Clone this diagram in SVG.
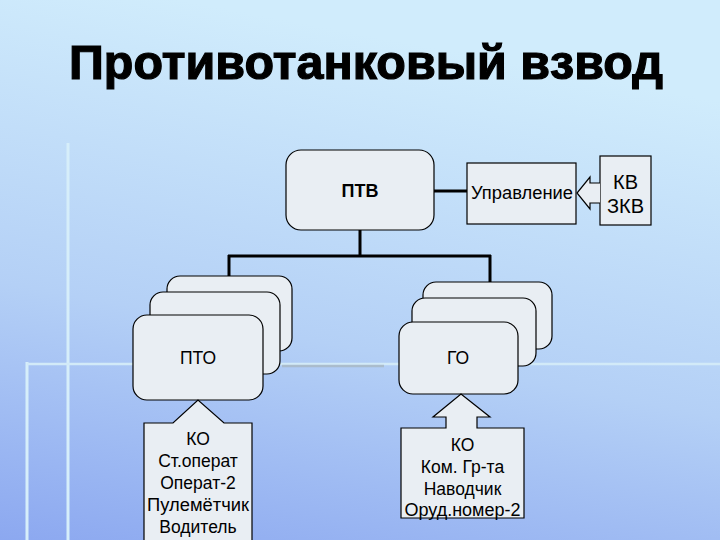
<svg xmlns="http://www.w3.org/2000/svg" width="720" height="540" viewBox="0 0 720 540">
<defs>
<linearGradient id="bg" x1="0.25" y1="0" x2="0" y2="1">
<stop offset="0" stop-color="#d0ecfc"/>
<stop offset="0.55" stop-color="#b4d0f6"/>
<stop offset="1" stop-color="#8ca8f0"/>
</linearGradient>
<linearGradient id="band" x1="0" y1="0" x2="1" y2="0">
<stop offset="0" stop-color="#dff2fb" stop-opacity="0.9"/>
<stop offset="0.35" stop-color="#c2d2dc" stop-opacity="0.9"/>
<stop offset="1" stop-color="#c2d2dc" stop-opacity="0.3"/>
</linearGradient>
<style>
.card{fill:#e9eef3;stroke:#000;stroke-width:1.2}
.conn{stroke:#000;stroke-width:3;fill:none}
.deco{stroke:#d6eefa;stroke-width:3;fill:none}
text{font-family:"Liberation Sans",Arial,sans-serif;fill:#000;text-anchor:middle}
.lbl{font-size:17.5px}
</style>
</defs>
<rect width="720" height="540" fill="url(#bg)"/>
<g id="decor">
<line class="deco" x1="68" y1="143" x2="68" y2="540"/>
<line x1="68" y1="145" x2="640" y2="145" stroke="url(#band)" stroke-width="4"/>
<line class="deco" x1="27" y1="362" x2="27" y2="540"/>
<line x1="27" y1="364" x2="720" y2="364" stroke="#d2eaf8" stroke-width="2.5"/>
<line x1="282" y1="366" x2="384" y2="366" stroke="#a8b8c4" stroke-width="2.5" opacity="0.8"/>
</g>
<text x="366" y="79" font-size="48" font-weight="bold" stroke="#000" stroke-width="1.2" textLength="594" lengthAdjust="spacingAndGlyphs">Противотанковый взвод</text>
<g id="connectors">
<line class="conn" x1="360" y1="230" x2="360" y2="256"/>
<line class="conn" x1="228" y1="256" x2="491" y2="256"/>
<line class="conn" x1="229" y1="255" x2="229" y2="276"/>
<line class="conn" x1="490" y1="255" x2="490" y2="283"/>
<line class="conn" x1="434" y1="191" x2="468" y2="191"/>
</g>
<g id="ptv">
<rect class="card" x="286" y="150" width="148" height="80" rx="15"/>
<text x="360" y="197" font-size="18" font-weight="bold">ПТВ</text>
</g>
<g id="upravlenie">
<rect class="card" x="467" y="163" width="109" height="61"/>
<text class="lbl" x="522" y="199" textLength="102" lengthAdjust="spacingAndGlyphs">Управление</text>
</g>
<g id="kv">
<rect class="card" x="600" y="156" width="51" height="69"/>
<text x="625.5" y="189" font-size="20">КВ</text>
<text x="625.5" y="213" font-size="20">ЗКВ</text>
<path class="card" d="M600,183 L590,183 L590,177 L577,193 L590,209 L590,203 L600,203"/>
</g>
<g id="pto">
<rect class="card" x="167" y="276" width="125" height="75" rx="13"/>
<rect class="card" x="150" y="292" width="130" height="82" rx="13"/>
<rect class="card" x="133" y="315" width="130" height="85" rx="14"/>
<text class="lbl" x="198" y="364">ПТО</text>
</g>
<g id="go">
<rect class="card" x="423" y="282" width="129" height="67" rx="13"/>
<rect class="card" x="412" y="298" width="124" height="68" rx="13"/>
<rect class="card" x="399" y="322" width="119" height="72" rx="14"/>
<text class="lbl" x="458" y="364">ГО</text>
</g>
<g id="ko-pto">
<path class="card" d="M144,423 L173,423 L198,400 L224,423 L252,423 L252,546 L144,546 Z"/>
<text class="lbl" x="198" y="445">КО</text>
<text class="lbl" x="198" y="467">Ст.операт</text>
<text class="lbl" x="198" y="489">Операт-2</text>
<text class="lbl" x="198" y="511" textLength="102" lengthAdjust="spacingAndGlyphs">Пулемётчик</text>
<text class="lbl" x="198" y="533">Водитель</text>
</g>
<g id="ko-go">
<path class="card" d="M401,428 L446,428 L446,417 L433,417 L461,394 L490,417 L477,417 L477,428 L524,428 L524,518 L401,518 Z"/>
<text class="lbl" x="462.5" y="451">КО</text>
<text class="lbl" x="462.5" y="473">Ком. Гр-та</text>
<text class="lbl" x="462.5" y="495">Наводчик</text>
<text class="lbl" x="462.5" y="516" textLength="116" lengthAdjust="spacingAndGlyphs">Оруд.номер-2</text>
</g>
</svg>
